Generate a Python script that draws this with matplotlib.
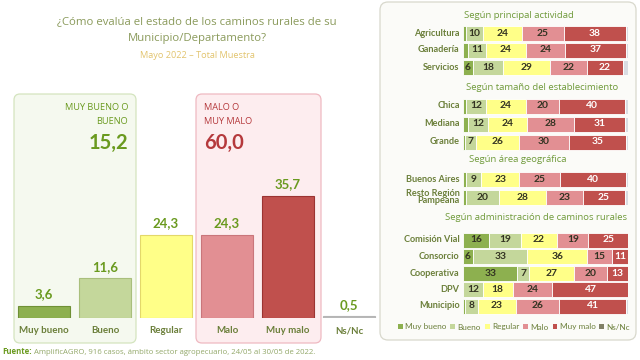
import matplotlib
matplotlib.use("Agg")
import matplotlib.pyplot as plt
from matplotlib.patches import FancyBboxPatch, Patch
from matplotlib.transforms import Affine2D

# total muestra
categorias = ["Muy bueno", "Bueno", "Regular", "Malo", "Muy malo", "Ns/Nc"]
total = [3.6, 11.6, 24.3, 24.3, 35.7, 0.5]
total_bueno = 15.2
total_malo = 60.0

# segmentaciones: % por fila (muy bueno, bueno, regular, malo, muy malo, ns/nc)
grupos = ["Según principal actividad", "Según tamaño del establecimiento",
          "Según área geográfica", "Según administración de caminos rurales"]
filas = [
    ["Agricultura", "Ganadería", "Servicios"],
    ["Chica", "Mediana", "Grande"],
    ["Buenos Aires", "Resto Región\nPampeana"],
    ["Comisión Vial", "Consorcio", "Cooperativa", "DPV", "Municipio"],
]
muy_bueno = [2, 3, 6, 2, 3, 1, 2, 2, 16, 6, 33, 0, 1]
bueno = [10, 11, 18, 12, 12, 7, 9, 20, 19, 33, 7, 12, 8]
regular = [24, 24, 29, 24, 24, 26, 23, 28, 22, 36, 27, 18, 23]
malo = [25, 24, 22, 20, 28, 30, 25, 23, 19, 15, 20, 24, 26]
muy_malo = [38, 37, 22, 40, 31, 35, 40, 25, 25, 11, 13, 47, 41]
ns_nc = [1, 1, 3, 2, 2, 1, 1, 2, 0, 0, 0, 0, 1]

colores = ["#8db04f", "#c4d79b", "#ffff88", "#e28f93", "#c0504d", "#d9dce2"]
bordes = ["#6f9035", "#a9bf7c", "#e3d86a", "#c9767b", "#9b3432", "#b5b5b5"]
col_leyenda = colores[:5] + ["#808066"]

OLIVA = "#6b7f3a"
VERDE = "#6a9a1f"
ROJO = "#b5393c"
LBL = ["Lato", "DejaVu Sans"]
TIT = ["Open Sans", "DejaVu Sans"]

W, H = 640, 360
fig = plt.figure(figsize=(W / 100, H / 100), dpi=100)
fig.patch.set_facecolor("white")
# pixel coordinates, y downwards
pix = Affine2D().scale(1 / W, -1 / H).translate(0, 1) + fig.transFigure


def fx(px):
    return px / W


def fy(py):
    return 1 - py / H


# ---------- left: total ----------
fig.text(197, 22, "¿Cómo evalúa el estado de los caminos rurales de su",
         transform=pix, ha="center", va="center", fontsize=8.2, color="#8a9a5b", family=TIT)
fig.text(197, 38, "Municipio/Departamento?", transform=pix, ha="center", va="center",
         fontsize=8.2, color="#8a9a5b", family=TIT)
fig.text(197, 55, "Mayo 2022 – Total Muestra", transform=pix, ha="center", va="center",
         fontsize=6.6, color="#e2c46e", family=TIT)

for x0, x1, fc, ec in [(14, 136, "#f5f9ef", "#d4e4bf"), (196, 321, "#fdedef", "#efb9c1")]:
    fig.patches.append(FancyBboxPatch((x0, 94), x1 - x0, 249,
                                      boxstyle="round,pad=0,rounding_size=6",
                                      transform=pix, fc=fc, ec=ec, lw=0.9, zorder=-1))

fig.text(128, 108, "MUY BUENO O", transform=pix, ha="right", va="center",
         fontsize=6.6, color=VERDE, family=TIT)
fig.text(128, 121, "BUENO", transform=pix, ha="right", va="center",
         fontsize=6.6, color=VERDE, family=TIT)
fig.text(128, 143, f"{total_bueno:.1f}".replace(".", ","), transform=pix, ha="right",
         va="center", fontsize=14.5, fontweight="bold", color=VERDE, family=LBL)
fig.text(204, 108, "MALO O", transform=pix, ha="left", va="center",
         fontsize=6.6, color=ROJO, family=TIT)
fig.text(204, 121, "MUY MALO", transform=pix, ha="left", va="center",
         fontsize=6.6, color=ROJO, family=TIT)
fig.text(204, 143, f"{total_malo:.1f}".replace(".", ","), transform=pix, ha="left",
         va="center", fontsize=14.5, fontweight="bold", color=ROJO, family=LBL)

ax = fig.add_axes([fx(13.5), fy(318), fx(366), (318 - 60) / H])
ax.patch.set_alpha(0)
xs = range(len(categorias))
ax.bar(xs, total, width=0.85, color=colores[:5] + ["#b9b9b9"],
       edgecolor=bordes, linewidth=0.8)
for i, v in enumerate(total):
    ax.annotate(f"{v:.1f}".replace(".", ","), (i, v), xytext=(0, 4),
                textcoords="offset points", ha="center", va="bottom",
                fontsize=9.5, fontweight="bold", color=VERDE, family=LBL)
ax.set_xlim(-0.5, 5.5)
ax.set_ylim(0, 75.4)
ax.set_xticks(list(xs), categorias)
ax.tick_params(axis="x", length=0, pad=6, labelsize=7, labelcolor=OLIVA)
for t in ax.get_xticklabels():
    t.set_fontweight("bold")
    t.set_family(LBL)
ax.set_yticks([])
for s in ax.spines.values():
    s.set_visible(False)

fuente = fig.text(2, 352, "Fuente:", transform=pix, ha="left", va="center", fontsize=5.6,
                  fontweight="bold", color=VERDE, family=TIT)
ax.annotate("AmplificAGRO, 916 casos, ámbito sector agropecuario, 24/05 al 30/05 de 2022.",
            xy=(1, 0.5), xycoords=fuente, xytext=(2, 0), textcoords="offset points",
            ha="left", va="center", fontsize=5.6, color="#93a86a", family=TIT,
            annotation_clip=False)

# ---------- right: segmentaciones ----------
fig.patches.append(FancyBboxPatch((380, 2), 256, 338, boxstyle="round,pad=0,rounding_size=8",
                                  transform=pix, fc="#fbfbf8", ec="#d8d8cc", lw=0.9, zorder=-1))

rax = fig.add_axes([fx(463), 0, fx(165), 1])
rax.patch.set_alpha(0)
rax.set_xlim(0, 100)
rax.set_ylim(H, 0)
rax.axis("off")

# layout of the panel (pixels): header y, gap to first row, row step
cab_y = [15, 88, 160, 218]
cab_x = [519, 542, 518, 536]
salto = [18, 18, 19, 22]
paso = [17, 18, 18, 16.5]
ys, etiquetas = [], []
for g, nombres in enumerate(filas):
    for r, n in enumerate(nombres):
        ys.append(cab_y[g] + salto[g] + r * paso[g])
        etiquetas.append(n)

for g, titulo in enumerate(grupos):
    fig.text(cab_x[g], cab_y[g], titulo, transform=pix, ha="center", va="center",
             fontsize=6.8, color="#6f9a3a", family=TIT)

series = [muy_bueno, bueno, regular, malo, muy_malo, ns_nc]
izq = [0] * len(ys)
for k, serie in enumerate(series):
    rax.barh(ys, serie, left=izq, height=15, color=colores[k], edgecolor="white", linewidth=0.6)
    for j, v in enumerate(serie):
        if v >= 5 and k < 5:
            rax.text(izq[j] + v / 2, ys[j], f"{v}", ha="center", va="center",
                     fontsize=7.4, fontweight="bold", family=LBL,
                     color="white" if k == 4 else "#333322")
    izq = [a + b for a, b in zip(izq, serie)]

for yy, n in zip(ys, etiquetas):
    rax.text(-2, yy, n, ha="right", va="center", fontsize=6.6, fontweight="bold",
             color=OLIVA, family=LBL, linespacing=0.8)

manejadores = [Patch(fc=c, ec="none") for c in col_leyenda]
fig.legend(manejadores, categorias, loc="center", bbox_to_anchor=(fx(514), fy(327)),
           ncol=6, frameon=False, handlelength=0.6, handleheight=0.6,
           handletextpad=0.25, columnspacing=0.5, labelcolor=OLIVA,
           prop={"family": LBL, "size": 5.9})

fig.savefig("out.png", dpi=100)
